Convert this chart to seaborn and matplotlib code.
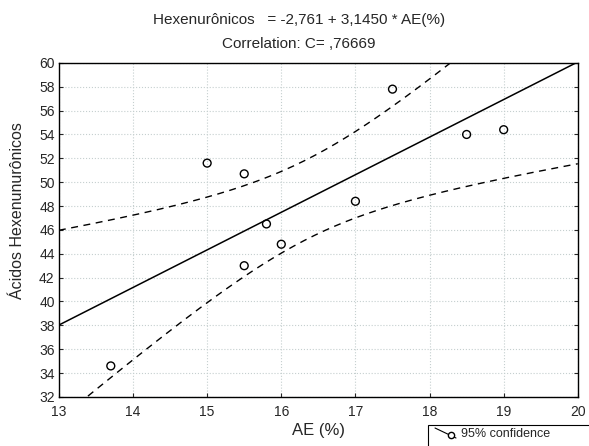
import numpy as np
import pandas as pd
import matplotlib
matplotlib.use('Agg')
import matplotlib.pyplot as plt
import seaborn as sns
from matplotlib.patches import Rectangle
from matplotlib.lines import Line2D

# valores
ae = [13.7, 15.0, 15.5, 15.5, 15.8, 16.0, 17.0, 17.5, 18.5, 19.0]
hexa = [34.6, 51.6, 50.7, 43.0, 46.5, 44.8, 48.4, 57.8, 54.0, 54.4]
x_ticks = [13, 14, 15, 16, 17, 18, 19, 20]
y_ticks = list(range(32, 61, 2))
t_crit = 2.306  # t(0.975, 8 gl)

sns.set_style('ticks')
plt.rcParams['font.family'] = ['Liberation Sans', 'DejaVu Sans']

data = pd.DataFrame({'AE': ae, 'Hex': hexa})
b, a = np.polyfit(data.AE, data.Hex, 1)
n = len(data)
resid = data.Hex - (a + b * data.AE)
s = np.sqrt((resid ** 2).sum() / (n - 2))
sxx = ((data.AE - data.AE.mean()) ** 2).sum()

xs = np.linspace(13, 20, 200)
fit = pd.DataFrame({'x': xs, 'y': a + b * xs})
half = t_crit * s * np.sqrt(1 / n + (xs - data.AE.mean()) ** 2 / sxx)
fit['lo'] = fit.y - half
fit['hi'] = fit.y + half

fig = plt.figure(figsize=(5.89, 4.46), dpi=100)
ax = fig.add_axes([0.100, 0.110, 0.881, 0.749])

sns.lineplot(data=fit, x='x', y='y', ax=ax, color='black', lw=1.1)
sns.lineplot(data=fit, x='x', y='hi', ax=ax, color='black', lw=1.0, linestyle=(0, (5, 4)))
sns.lineplot(data=fit, x='x', y='lo', ax=ax, color='black', lw=1.0, linestyle=(0, (5, 4)))
sns.scatterplot(data=data, x='AE', y='Hex', ax=ax, s=32, facecolor='none',
                edgecolor='black', linewidth=1.0, zorder=5)

ax.set_xlim(13, 20)
ax.set_ylim(32, 60)
ax.set_xticks(x_ticks)
ax.set_yticks(y_ticks)
ax.grid(True, color='#c5cfcf', linestyle=':', linewidth=0.8)
ax.tick_params(direction='in', length=3, labelsize=10, right=True, top=False)
ax.tick_params(axis='x', pad=6)
ax.tick_params(axis='y', pad=3)
for sp in ax.spines.values():
    sp.set_linewidth(1.0)
    sp.set_color('black')
ax.set_xlabel('AE (%)', fontsize=12, labelpad=3)
ax.set_ylabel('Ácidos Hexenunurônicos', fontsize=11.5, labelpad=4)
ax.yaxis.set_label_coords(-0.066, 0.557)

fig.text(0.508, 0.955, 'Hexenurônicos   = -2,761 + 3,1450 * AE(%)', ha='center', va='center', fontsize=11)
fig.text(0.508, 0.902, 'Correlation: C= ,76669', ha='center', va='center', fontsize=11)

# legenda no canto inferior direito
fig.patches.append(Rectangle((428 / 589, -0.05), 0.4, 1 - 425 / 446 + 0.05,
                             transform=fig.transFigure, fill=False, lw=0.8, color='black'))
fig.lines.append(Line2D([435 / 589, 456 / 589], [1 - 428 / 446, 1 - 438 / 446],
                        transform=fig.transFigure, color='black', lw=0.8))
fig.lines.append(Line2D([451 / 589], [1 - 435 / 446], transform=fig.transFigure, marker='o',
                        markersize=4.5, markerfacecolor='white', markeredgecolor='black', lw=0))
fig.text(461 / 589, 1 - 434 / 446, '95% confidence', fontsize=9, va='center')

fig.savefig('out.png', dpi=100)
